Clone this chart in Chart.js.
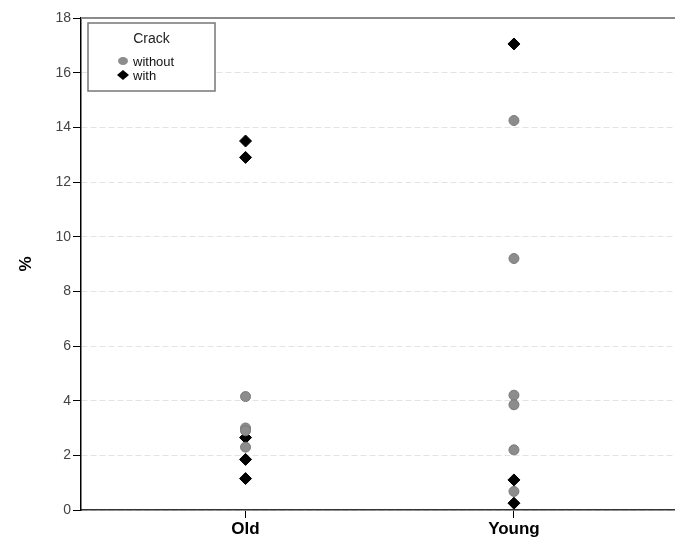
<!DOCTYPE html>
<html>
<head>
<meta charset="utf-8">
<script src="https://cdn.jsdelivr.net/npm/chart.js@4/dist/chart.umd.min.js"></script>
<style>
  html, body { margin: 0; padding: 0; background: #fff; }
  #wrap { width: 675px; height: 538px; }
</style>
</head>
<body>
<div id="wrap"><canvas id="chart"></canvas></div>
<script>
// groups on the x axis (0 = Old, 1 = Young)
var groups = ['Old', 'Young'];
var yTicks = [0, 2, 4, 6, 8, 10, 12, 14, 16, 18];

// values, in %
var oldWithout = [4.15, 3.0, 2.9, 2.3];
var oldWith = [13.5, 12.9, 2.65, 1.85, 1.15];
var youngWithout = [14.25, 9.2, 4.2, 3.85, 2.2, 0.68];
var youngWith = [17.05, 1.1, 0.25];

function toPoints(groupIndex, values) {
    return values.map(v => ({ x: groupIndex, y: v }));
}

// frame line along the top of the plot
const framePlugin = {
    id: 'frame',
    afterDatasetsDraw(chart) {
        const ctx = chart.ctx;
        const a = chart.chartArea;
        ctx.save();
        ctx.strokeStyle = '#8a8a8a';
        ctx.lineWidth = 2;
        ctx.beginPath();
        ctx.moveTo(a.left, a.top);
        ctx.lineTo(a.right, a.top);
        ctx.stroke();
        ctx.restore();
    }
};

// boxed legend with a title, drawn inside the plot area
const boxLegend = {
    id: 'boxLegend',
    afterDraw(chart) {
        const ctx = chart.ctx;
        const a = chart.chartArea;
        const x = a.left + 7, y = a.top + 5, w = 127, h = 68;
        ctx.save();
        ctx.fillStyle = '#fff';
        ctx.fillRect(x, y, w, h);
        ctx.strokeStyle = '#777';
        ctx.lineWidth = 1.5;
        ctx.strokeRect(x, y, w, h);
        ctx.fillStyle = '#222';
        ctx.font = '14px "Liberation Sans", Arial, sans-serif';
        ctx.textAlign = 'center';
        ctx.textBaseline = 'middle';
        ctx.fillText('Crack', x + w / 2, y + 16);
        ctx.font = '13px "Liberation Sans", Arial, sans-serif';
        ctx.textAlign = 'left';
        const items = [chart.data.datasets[0], chart.data.datasets[1]];
        items.forEach((ds, i) => {
            const iy = y + 38 + i * 14;
            const ix = x + 35;
            ctx.fillStyle = ds.backgroundColor;
            ctx.beginPath();
            if (ds.pointStyle === 'rectRot') {
                ctx.moveTo(ix, iy - 5);
                ctx.lineTo(ix + 6, iy);
                ctx.lineTo(ix, iy + 5);
                ctx.lineTo(ix - 6, iy);
                ctx.closePath();
            } else {
                ctx.ellipse(ix, iy, 5, 4, 0, 0, Math.PI * 2);
            }
            ctx.fill();
            ctx.fillStyle = '#111';
            ctx.fillText(ds.label, ix + 10, iy + 1);
        });
        ctx.restore();
    }
};

onload = function() {
    const canvas = document.querySelector('#chart');
    new Chart(canvas, {
        type: 'scatter',
        data: {
            datasets: [
                {
                    label: 'without',
                    data: toPoints(0, oldWithout).concat(toPoints(1, youngWithout)),
                    pointStyle: 'circle',
                    radius: 5,
                    backgroundColor: '#8c8c8c',
                    borderColor: '#7a7a7a',
                    borderWidth: 1
                },
                {
                    label: 'with',
                    data: toPoints(0, oldWith).concat(toPoints(1, youngWith)),
                    pointStyle: 'rectRot',
                    radius: 6,
                    backgroundColor: '#000',
                    borderColor: '#000',
                    borderWidth: 1
                }
            ]
        },
        options: {
            responsive: true,
            maintainAspectRatio: false,
            animation: false,
            // no extra room for point radius, plot runs to the right edge
            layout: { autoPadding: false, padding: { top: 18, right: 0, bottom: 0, left: 0 } },
            plugins: {
                legend: { display: false },
                tooltip: { enabled: false }
            },
            scales: {
                x: {
                    type: 'linear',
                    min: -0.613,
                    max: 1.6,
                    afterBuildTicks: (scale) => {
                        scale.ticks = groups.map((g, i) => ({ value: i }));
                    },
                    afterFit: (scale) => {
                        scale.height = 28;
                    },
                    ticks: {
                        callback: (v) => groups[v],
                        color: '#000',
                        font: { family: '"Liberation Sans", Arial, sans-serif', size: 17, weight: 'bold' },
                        padding: 1,
                        maxRotation: 0
                    },
                    grid: {
                        drawOnChartArea: false,
                        tickLength: 8,
                        tickColor: '#000',
                        tickWidth: 1
                    },
                    border: { color: '#333', width: 1.5 }
                },
                y: {
                    min: 0,
                    max: 18,
                    afterBuildTicks: (scale) => {
                        scale.ticks = yTicks.map(v => ({ value: v }));
                    },
                    afterFit: (scale) => { scale.width = 81; },
                    title: {
                        display: true,
                        text: '%',
                        color: '#000',
                        font: { family: '"Liberation Sans", Arial, sans-serif', size: 17, weight: 'bold' },
                        padding: { top: 16, bottom: 0 }
                    },
                    ticks: {
                        color: '#444',
                        font: { family: '"Liberation Sans", Arial, sans-serif', size: 14 },
                        padding: 2
                    },
                    grid: {
                        color: '#e3e3e3',
                        tickLength: 8,
                        tickColor: '#000',
                        tickWidth: 1
                    },
                    border: { color: '#000', width: 1.5, dash: [6, 3] }
                }
            }
        },
        plugins: [framePlugin, boxLegend]
    });
};
</script>
</body>
</html>
